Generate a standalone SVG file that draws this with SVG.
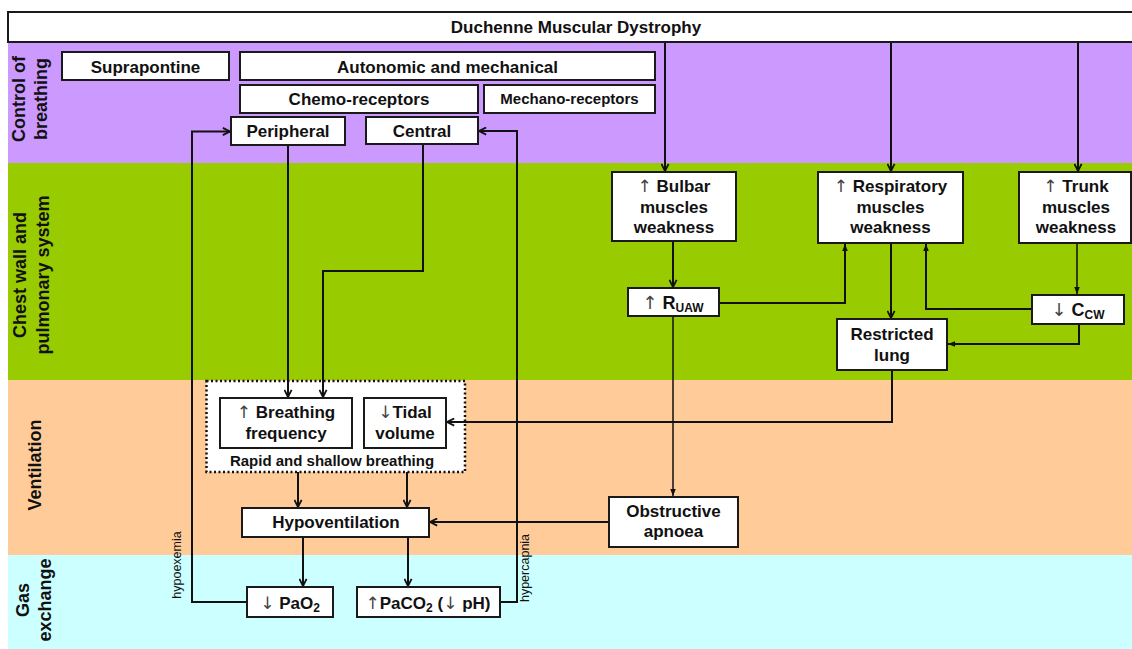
<svg xmlns="http://www.w3.org/2000/svg" width="1132" height="649" viewBox="0 0 1132 649">
<style>
.box{fill:#fff;stroke:#1a1a1a;stroke-width:2}
.t{font-family:"Liberation Sans",Arial,sans-serif;font-weight:bold;font-size:17px;fill:#111;text-anchor:middle}
.lab{font-family:"Liberation Sans",Arial,sans-serif;font-weight:bold;font-size:18px;fill:#111;text-anchor:middle}
.sm{font-family:"Liberation Sans",Arial,sans-serif;font-size:12.5px;fill:#111;text-anchor:middle}
.ar{font-family:"DejaVu Sans",sans-serif;font-weight:normal;fill:#444}
.c{fill:none;stroke:#111;stroke-width:2}
.cn{fill:none;stroke:#111;stroke-width:1.5}
</style>
<defs>
<marker id="ah" viewBox="0 0 10 10" refX="9" refY="5" markerWidth="9" markerHeight="9" markerUnits="userSpaceOnUse" orient="auto"><path d="M1,1 L9,5 L1,9" fill="none" stroke="#111" stroke-width="2"/></marker>
<marker id="as" viewBox="0 0 10 10" refX="10" refY="5" markerWidth="7" markerHeight="7" markerUnits="userSpaceOnUse" orient="auto"><path d="M0,1 L10,5 L0,9 z" fill="#111"/></marker>
</defs>
<g id="bands">
<rect x="8" y="42" width="1124" height="121" fill="#CC99FF"/>
<rect x="8" y="163" width="1124" height="217" fill="#99CC00"/>
<rect x="8" y="380" width="1124" height="175" fill="#FFCC99"/>
<rect x="8" y="555" width="1124" height="94" fill="#CCFFFF"/>
<text class="lab" transform="translate(0,99) rotate(-90)"><tspan x="0" y="25">Control of</tspan><tspan x="0" y="47">breathing</tspan></text>
<text class="lab" transform="translate(0,275) rotate(-90)"><tspan x="0" y="26">Chest wall and</tspan><tspan x="0" y="49">pulmonary system</tspan></text>
<text class="lab" transform="translate(0,465) rotate(-90)"><tspan x="0" y="41">Ventilation</tspan></text>
<text class="lab" transform="translate(0,600) rotate(-90)"><tspan x="0" y="29">Gas</tspan><tspan x="0" y="51">exchange</tspan></text>
</g>
<g id="rapid"><rect x="206.5" y="381" width="258.5" height="91" fill="#fff" stroke="#111" stroke-width="2.5" stroke-dasharray="2 2.5"/><text class="t" x="332" y="465.5" style="font-size:15px">Rapid and shallow breathing</text></g>
<g id="connectors">
<path class="c" d="M665,42 V171" marker-end="url(#ah)"/>
<path class="c" d="M891,42 V171" marker-end="url(#ah)"/>
<path class="c" d="M1078,42 V171" marker-end="url(#ah)"/>
<path class="c" d="M288,145 V397" marker-end="url(#ah)"/>
<path class="c" d="M423,144 V271 H323 V397" marker-end="url(#ah)"/>
<path class="c" d="M247,602 H192 V131.5 H230" marker-end="url(#ah)"/>
<path class="c" d="M500,602 H517 V131 H479" marker-end="url(#ah)"/>
<path class="c" d="M673,241 V287" marker-end="url(#ah)"/>
<path class="c" d="M719,303 H845 V244" marker-end="url(#as)"/>
<path class="cn" d="M673,316 V496" marker-end="url(#as)"/>
<path class="c" d="M891,243 V318" marker-end="url(#ah)"/>
<path class="cn" d="M1077,243 V294" marker-end="url(#as)"/>
<path class="c" d="M1032,309 H926 V244" marker-end="url(#as)"/>
<path class="c" d="M1079,324 V344 H948" marker-end="url(#as)"/>
<path class="c" d="M892,370 V422 H447" marker-end="url(#ah)"/>
<path class="c" d="M609,522 H430" marker-end="url(#ah)"/>
<path class="c" d="M298,472 V507" marker-end="url(#ah)"/>
<path class="c" d="M407,472 V507" marker-end="url(#ah)"/>
<path class="c" d="M303,537 V586" marker-end="url(#ah)"/>
<path class="c" d="M408,537 V586" marker-end="url(#ah)"/>
<text class="sm" transform="translate(0,565) rotate(-90)" x="0" y="181">hypoexemia</text>
<text class="sm" transform="translate(0,568) rotate(-90)" x="0" y="529">hypercapnia</text>
</g>
<g id="dmd"><rect class="box" x="8" y="12" width="1126" height="30"/><text class="t" x="576" y="32.5">Duchenne Muscular Dystrophy</text></g>
<g id="suprapontine"><rect class="box" x="62" y="52" width="167" height="28"/><text class="t" x="145.5" y="72.5">Suprapontine</text></g>
<g id="autonomic"><rect class="box" x="240" y="52" width="415" height="28"/><text class="t" x="447.5" y="72.5">Autonomic and mechanical</text></g>
<g id="chemo"><rect class="box" x="240" y="85" width="238" height="28"/><text class="t" x="359" y="105">Chemo-receptors</text></g>
<g id="mechano"><rect class="box" x="484" y="85" width="171" height="28"/><text class="t" x="569.5" y="103.5" style="font-size:15px">Mechano-receptors</text></g>
<g id="peripheral"><rect class="box" x="231" y="117" width="114" height="28"/><text class="t" x="288" y="137">Peripheral</text></g>
<g id="central"><rect class="box" x="366" y="117" width="112" height="27"/><text class="t" x="422" y="137">Central</text></g>
<g id="bulbar"><rect class="box" x="612" y="172" width="124" height="69"/><text class="t" x="674"><tspan x="674" y="192"><tspan class="ar">↑</tspan> Bulbar</tspan><tspan x="674" y="213">muscles</tspan><tspan x="674" y="233">weakness</tspan></text></g>
<g id="respiratory"><rect class="box" x="818" y="172" width="145" height="71"/><text class="t" x="890.5"><tspan x="890.5" y="192"><tspan class="ar">↑</tspan> Respiratory</tspan><tspan x="890.5" y="213">muscles</tspan><tspan x="890.5" y="233">weakness</tspan></text></g>
<g id="trunk"><rect class="box" x="1019" y="172" width="112" height="71"/><text class="t" x="1076"><tspan x="1076" y="192"><tspan class="ar">↑</tspan> Trunk</tspan><tspan x="1076" y="213">muscles</tspan><tspan x="1076" y="233">weakness</tspan></text></g>
<g id="ruaw"><rect class="box" x="628" y="288" width="91" height="28"/><text class="t" x="673" y="309" style="font-size:18px"><tspan class="ar">↑</tspan> R<tspan dy="3" style="font-size:12px">UAW</tspan></text></g>
<g id="ccw"><rect class="box" x="1032" y="295" width="92" height="29"/><text class="t" x="1078" y="316" style="font-size:18px"><tspan class="ar">↓</tspan> C<tspan dy="3" style="font-size:12px">CW</tspan></text></g>
<g id="restricted"><rect class="box" x="837" y="319" width="110" height="51"/><text class="t"><tspan x="892" y="340">Restricted</tspan><tspan x="892" y="361">lung</tspan></text></g>
<g id="breathing"><rect class="box" x="220" y="398" width="132" height="50"/><text class="t"><tspan x="286" y="418"><tspan class="ar">↑</tspan> Breathing</tspan><tspan x="286" y="439">frequency</tspan></text></g>
<g id="tidal"><rect class="box" x="364" y="398" width="82" height="50"/><text class="t"><tspan x="405" y="418"><tspan class="ar">↓</tspan>Tidal</tspan><tspan x="405" y="439">volume</tspan></text></g>
<g id="hypoventilation"><rect class="box" x="242" y="508" width="187" height="29"/><text class="t" x="336" y="528">Hypoventilation</text></g>
<g id="obstructive"><rect class="box" x="609" y="497" width="129" height="50"/><text class="t"><tspan x="673.5" y="517">Obstructive</tspan><tspan x="673.5" y="537">apnoea</tspan></text></g>
<g id="pao2"><rect class="box" x="247" y="587" width="86" height="30"/><text class="t" x="290" y="608.5"><tspan class="ar">↓</tspan> PaO<tspan dy="3" style="font-size:12px">2</tspan></text></g>
<g id="paco2"><rect class="box" x="357" y="587" width="143" height="30"/><text class="t" x="428" y="608.5"><tspan class="ar">↑</tspan>PaCO<tspan dy="3" style="font-size:12px">2</tspan><tspan dy="-3"> (</tspan><tspan class="ar">↓</tspan> pH)</text></g>
</svg>
